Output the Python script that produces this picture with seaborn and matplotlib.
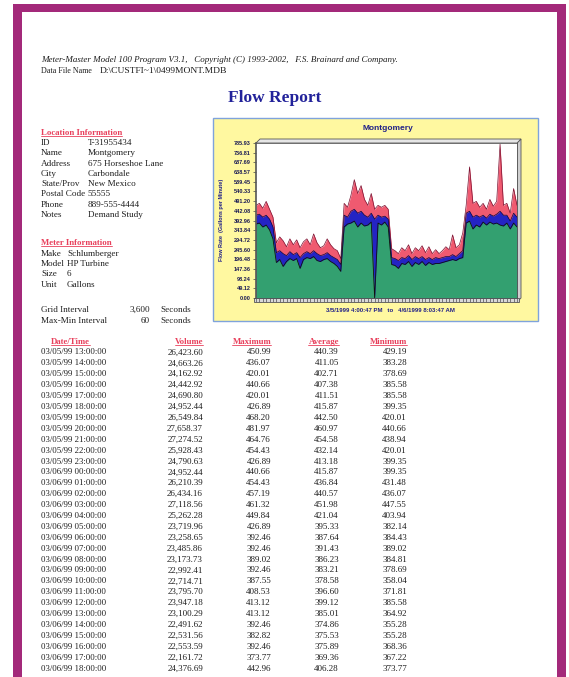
import matplotlib
matplotlib.use('Agg')
import matplotlib.pyplot as plt
from matplotlib.patches import Rectangle, Polygon
from matplotlib.lines import Line2D
import seaborn as sns
import pandas as pd
import numpy as np


# ---------------------------------------------- Data -----------------------------------------------

# Flow rate graph (gallons per minute)
flow_max = [470, 480, 455, 490, 450, 410, 280, 310, 290, 260, 300, 270, 295, 255, 285, 300,
            270, 325, 280, 255, 265, 300, 270, 250, 240, 200, 480, 460, 520, 600, 530, 570,
            500, 470, 530, 450, 470, 460, 470, 450, 250, 240, 225, 255, 240, 270, 225, 255,
            240, 265, 230, 260, 225, 245, 225, 240, 260, 245, 320, 255, 270, 330, 470, 665,
            480, 490, 460, 480, 450, 500, 465, 490, 780, 470, 480, 430, 555, 470]
flow_avg = [420, 425, 410, 420, 400, 360, 230, 240, 225, 215, 235, 220, 230, 205, 225, 235,
            225, 240, 225, 215, 220, 230, 215, 205, 195, 170, 420, 410, 440, 450, 430, 440,
            420, 410, 430, 400, 420, 410, 415, 400, 205, 200, 190, 205, 200, 215, 195, 210,
            200, 210, 195, 205, 195, 205, 200, 205, 210, 210, 220, 210, 225, 240, 430, 440,
            410, 420, 410, 420, 405, 425, 415, 425, 440, 420, 420, 390, 430, 410]
flow_min = [375, 380, 360, 370, 345, 300, 180, 195, 160, 185, 200, 190, 200, 150, 195, 205,
            200, 210, 190, 185, 195, 200, 185, 175, 160, 135, 360, 375, 380, 390, 360, 380,
            365, 370, 385, 0, 380, 370, 385, 360, 170, 165, 150, 175, 170, 185, 160, 180,
            170, 185, 165, 180, 170, 175, 175, 180, 185, 190, 195, 190, 200, 205, 380, 390,
            350, 370, 360, 385, 370, 385, 375, 380, 370, 365, 380, 350, 380, 360]
y_tick_labels = ['0.00', '49.12', '98.24', '147.36', '196.48', '245.60', '294.72', '343.84',
                 '392.96', '442.08', '491.20', '540.33', '589.45', '638.57', '687.69',
                 '736.81', '785.93']

# Hourly table
times = ['03/05/99 13:00:00', '03/05/99 14:00:00', '03/05/99 15:00:00', '03/05/99 16:00:00',
         '03/05/99 17:00:00', '03/05/99 18:00:00', '03/05/99 19:00:00', '03/05/99 20:00:00',
         '03/05/99 21:00:00', '03/05/99 22:00:00', '03/05/99 23:00:00', '03/06/99 00:00:00',
         '03/06/99 01:00:00', '03/06/99 02:00:00', '03/06/99 03:00:00', '03/06/99 04:00:00',
         '03/06/99 05:00:00', '03/06/99 06:00:00', '03/06/99 07:00:00', '03/06/99 08:00:00',
         '03/06/99 09:00:00', '03/06/99 10:00:00', '03/06/99 11:00:00', '03/06/99 12:00:00',
         '03/06/99 13:00:00', '03/06/99 14:00:00', '03/06/99 15:00:00', '03/06/99 16:00:00',
         '03/06/99 17:00:00', '03/06/99 18:00:00']
volume = [26423.60, 24663.26, 24162.92, 24442.92, 24690.80, 24952.44, 26549.84, 27658.37,
          27274.52, 25928.43, 24790.63, 24952.44, 26210.39, 26434.16, 27118.56, 25262.28,
          23719.96, 23258.65, 23485.86, 23173.73, 22992.41, 22714.71, 23795.70, 23947.18,
          23100.29, 22491.62, 22531.56, 22553.59, 22161.72, 24376.69]
maximum = [450.99, 436.07, 420.01, 440.66, 420.01, 426.89, 468.20, 481.97, 464.76, 454.43,
           426.89, 440.66, 454.43, 457.19, 461.32, 449.84, 426.89, 392.46, 392.46, 389.02,
           392.46, 387.55, 408.53, 413.12, 413.12, 392.46, 382.82, 392.46, 373.77, 442.96]
average = [440.39, 411.05, 402.71, 407.38, 411.51, 415.87, 442.50, 460.97, 454.58, 432.14,
           413.18, 415.87, 436.84, 440.57, 451.98, 421.04, 395.33, 387.64, 391.43, 386.23,
           383.21, 378.58, 396.60, 399.12, 385.01, 374.86, 375.53, 375.89, 369.36, 406.28]
minimum = [429.19, 383.28, 378.69, 385.58, 385.58, 399.35, 420.01, 440.66, 438.94, 420.01,
           399.35, 399.35, 431.48, 436.07, 447.55, 403.94, 382.14, 384.43, 389.02, 384.81,
           378.69, 358.04, 371.81, 385.58, 364.92, 355.28, 355.28, 368.36, 367.22, 373.77]

# Info block
location_labels = ['ID', 'Name', 'Address', 'City', 'State/Prov', 'Postal Code', 'Phone', 'Notes']
location_values = ['T-31955434', 'Montgomery', '675 Horseshoe Lane', 'Carbondale', 'New Mexico',
                   '55555', '889-555-4444', 'Demand Study']
meter_labels = ['Make', 'Model', 'Size', 'Unit']
meter_values = ['Schlumberger', 'HP Turbine', '6', 'Gallons']


# ---------------------------------------------- Layout -----------------------------------------------

W, H = 569, 677
sns.set_theme(style='white')
plt.rcParams['font.family'] = ['Liberation Serif', 'DejaVu Serif']

fig = plt.figure(figsize=(W / 100, H / 100), dpi=100)
fig.patch.set_facecolor('white')

INK = '#1e1e1e'
PINK = '#e8405c'
NAVY = '#22229a'


def pos(x, y):
	# pixel coords (top-left origin) -> figure fraction
	return x / W, 1 - y / H


def put(x, y, s, **kw):
	kw.setdefault('color', INK)
	kw.setdefault('fontsize', 6.6)
	kw.setdefault('va', 'center')
	return fig.text(*pos(x, y), s, **kw)


def frect(x0, y0, x1, y1, **kw):
	r = Rectangle(pos(x0, y1), (x1 - x0) / W, (y1 - y0) / H, transform=fig.transFigure, **kw)
	fig.patches.append(r)
	return r


# Magenta page border
border = '#a3297a'
frect(13, 4, 566, 12, facecolor=border, edgecolor='none', zorder=10)
frect(13, 4, 22, 677, facecolor=border, edgecolor='none', zorder=10)
frect(557, 4, 566, 677, facecolor=border, edgecolor='none', zorder=10)

# Header lines
put(41, 60, 'Meter-Master Model 100 Program V3.1,   Copyright (C) 1993-2002,   F.S. Brainard and Company.',
	style='italic', fontsize=6.5)
put(41, 71, 'Data File Name', fontsize=5.8)
put(100, 71, 'D:\\CUSTFI~1\\0499MONT.MDB', fontsize=6.8)
put(275, 98, 'Flow Report', fontsize=12.5, fontweight='bold', color=NAVY, ha='center')

underlined = []

# Location information
underlined.append(put(41, 133, 'Location Information', fontweight='bold', color=PINK, fontsize=6.3))
loc_y = [143, 153, 163.5, 174, 184, 194, 205, 215]
for lab, val, y in zip(location_labels, location_values, loc_y):
	put(41, y, lab)
	put(87.5, y, val)

# Meter information
underlined.append(put(41, 243, 'Meter Information', fontweight='bold', color=PINK, fontsize=6.3))
met_y = [254, 264, 274, 285]
for lab, val, y in zip(meter_labels, meter_values, met_y):
	put(41, y, lab)
	put(67, y, val)

put(41, 310, 'Grid Interval')
put(150, 310, '3,600', ha='right')
put(160, 310, 'Seconds')
put(41, 321, 'Max-Min Interval')
put(150, 321, '60', ha='right')
put(160, 321, 'Seconds')

# Table
hdr_y = 342
hdr_kw = dict(fontweight='bold', color=PINK, fontsize=6.3)
underlined.append(put(70.5, hdr_y, 'Date/Time', ha='center', **hdr_kw))
underlined.append(put(203, hdr_y, 'Volume', ha='right', **hdr_kw))
underlined.append(put(271, hdr_y, 'Maximum', ha='right', **hdr_kw))
underlined.append(put(339, hdr_y, 'Average', ha='right', **hdr_kw))
underlined.append(put(407, hdr_y, 'Minimum', ha='right', **hdr_kw))

for i, t in enumerate(times):
	y = 352.5 + i * 10.9
	put(41, y, t, fontsize=6.3)
	put(203, y, f'{volume[i]:,.2f}', fontsize=6.5, ha='right')
	put(271, y, f'{maximum[i]:.2f}', fontsize=6.5, ha='right')
	put(339, y, f'{average[i]:.2f}', fontsize=6.5, ha='right')
	put(407, y, f'{minimum[i]:.2f}', fontsize=6.5, ha='right')


# ---------------------------------------------- Graph -----------------------------------------------

# Yellow panel
frect(213, 118, 538, 321, facecolor='#fff8a0', edgecolor='#7fa3dc', lw=1.0, zorder=-1)

# 3D style side wall and floor
fig.patches.append(Polygon([pos(517, 143), pos(521, 139), pos(521, 298), pos(517, 302)],
						   closed=True, transform=fig.transFigure, facecolor='#cfcfcf',
						   edgecolor='#555555', lw=0.6, zorder=-0.5))
fig.patches.append(Polygon([pos(256, 143), pos(260, 139), pos(521, 139), pos(517, 143)],
						   closed=True, transform=fig.transFigure, facecolor='#e6e6e6',
						   edgecolor='#555555', lw=0.6, zorder=-0.5))
frect(254, 298, 519, 302, facecolor='#d8d8d8', edgecolor='#555555', lw=0.6, zorder=-0.5)

ax = fig.add_axes([256 / W, 1 - 298 / H, (517 - 256) / W, (298 - 143) / H])
ax.set_facecolor('white')

df = pd.DataFrame({'x': np.arange(len(flow_max)), 'max': flow_max, 'avg': flow_avg, 'min': flow_min})

ax.fill_between(df['x'], df['max'], color='#ef5a70', lw=0)
ax.fill_between(df['x'], df['avg'], color='#2424c4', lw=0)
ax.fill_between(df['x'], df['min'], color='#33a070', lw=0)
sns.lineplot(data=df, x='x', y='max', ax=ax, color='#7a1030', lw=0.5)
sns.lineplot(data=df, x='x', y='avg', ax=ax, color='#0a0a40', lw=0.5)
sns.lineplot(data=df, x='x', y='min', ax=ax, color='#101010', lw=0.6)

ax.set_xlim(0, len(flow_max) - 1)
ax.set_ylim(0, float(y_tick_labels[-1]))
ax.set_yticks([float(v) for v in y_tick_labels])
ax.set_yticklabels(y_tick_labels, fontsize=4.0, fontweight='bold', color='#1a1a55', family='Liberation Sans')
ax.set_xticks(np.arange(0, len(flow_max), 1))
ax.set_xticklabels([])
ax.tick_params(axis='y', direction='out', length=2.5, width=0.5, pad=1.2, color='#444444', left=True)
ax.tick_params(axis='x', direction='out', length=3, width=0.6, color='#666666', bottom=True)
ax.set_xlabel('')
ax.set_ylabel('')
for s in ax.spines.values():
	s.set_color('#555555')
	s.set_linewidth(0.6)
ax.spines['left'].set_linewidth(1.2)

put(388, 128, 'Montgomery', fontsize=6.0, fontweight='bold', color='#202088', ha='center', family='Liberation Sans')
put(390, 311, '3/5/1999 4:00:47 PM   to   4/6/1999 8:03:47 AM', fontsize=4.3, fontweight='bold',
	color='#202088', ha='center', family='Liberation Sans')
put(222, 220, 'Flow Rate  (Gallons per Minute)', fontsize=4.0, fontweight='bold', color='#202088',
	ha='center', rotation=90, family='Liberation Sans')

# Underline the red headings
fig.canvas.draw()
renderer = fig.canvas.get_renderer()
inv = fig.transFigure.inverted()
for t in underlined:
	bb = t.get_window_extent(renderer)
	(x0, y0), (x1, _) = inv.transform([(bb.x0, bb.y0 + 1.2), (bb.x1, bb.y0 + 1.2)])
	fig.add_artist(Line2D([x0, x1], [y0, y0], transform=fig.transFigure, color=PINK, lw=0.6))

fig.savefig('out.png', dpi=100)
